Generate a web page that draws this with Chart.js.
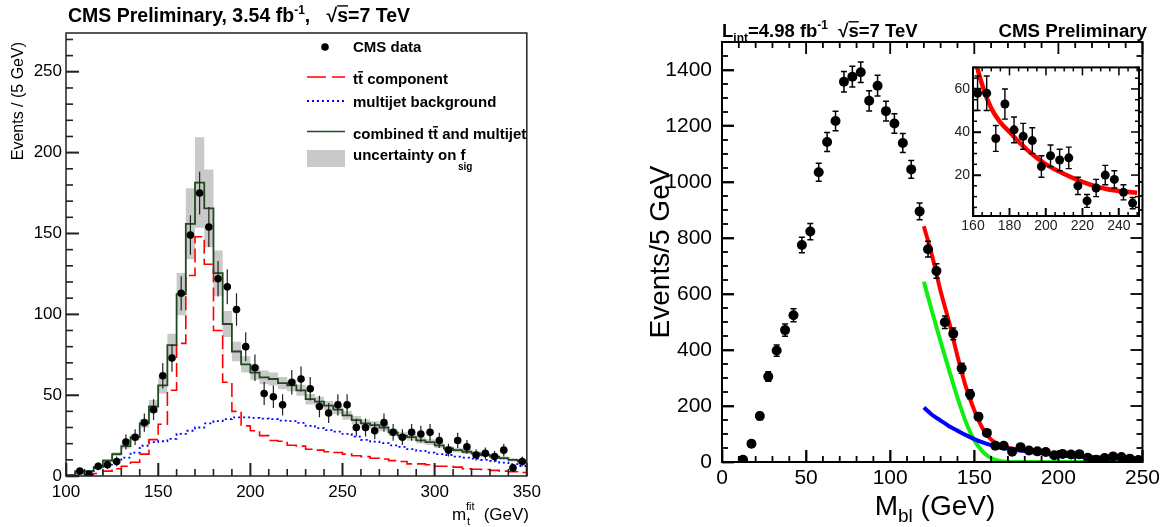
<!DOCTYPE html>
<html>
<head>
<meta charset="utf-8">
<script src="https://cdn.jsdelivr.net/npm/chart.js@4.4.1/dist/chart.umd.min.js"></script>
<style>
  body { margin: 0; background: #fff; }
  #wrap { position: relative; width: 1176px; height: 527px; overflow: hidden; }
  canvas { position: absolute; }
  #left { left: 0; top: 0; }
  #right { left: 560px; top: 0; }
  #inset { left: 930px; top: 48px; }
</style>
</head>
<body>
<div id="wrap">
  <canvas id="left" width="560" height="527"></canvas>
  <canvas id="right" width="616" height="527"></canvas>
  <canvas id="inset" width="215" height="195"></canvas>
</div>
<script>
const FONT = "'Liberation Sans', Arial, Helvetica, sans-serif";

// ---- left panel: fitted top mass, 5 GeV bins from 100 to 350 ----
const mtBinLow = 100;
const mtBinWidth = 5;
const mtFirstCenter = 107.5;
const mtData = [3, 1, 6, 7, 9, 21, 24, 33, 41, 62, 73, 113, 149, 175, 154, 122, 117, 103, 80, 67,
  51, 49, 44, 58, 60, 54, 43, 39, 44, 44, 30, 30, 28, 33, 27, 24, 27, 26, 27, 22,
  16, 22, 18, 13, 14, 12, 16, 5, 9];
const mtDataErr = [1.7, 1, 2.4, 2.6, 3, 4.6, 4.9, 5.7, 6.4, 7.9, 8.5, 10.6, 12.2, 13.2, 12.4, 11, 10.8, 10.1, 8.9, 8.2,
  7.1, 7, 6.6, 7.6, 7.7, 7.3, 6.6, 6.2, 6.6, 6.6, 5.5, 5.5, 5.3, 5.7, 5.2, 4.9, 5.2, 5.1, 5.2, 4.7,
  4, 4.7, 4.2, 3.6, 3.7, 3.5, 4, 2.2, 3];
const mtCombined = [0.5, 3, 3, 5.5, 9.5, 13.5, 18.5, 24, 32.5, 43, 56, 81, 112.5, 156, 181.5, 165.5, 125.5, 94, 77, 69,
  64, 61, 60, 57.5, 56, 53, 47.5, 46, 43.5, 41, 37.5, 34.5, 32.5, 31.5, 30, 27, 25, 24, 22, 21,
  19, 17, 16, 15, 14, 13, 12, 11, 10, 9];
const mtTtbar = [0.3, 0.5, 0.8, 1.5, 3, 4.5, 6, 8.5, 13.5, 22.5, 32, 53, 82, 124, 148, 131, 90, 58, 40, 31,
  28, 25, 22, 21.5, 19, 18.5, 16.5, 16, 15, 14.5, 13.5, 12.5, 12, 11, 10.5, 9.5, 9, 7.5, 7.5, 7,
  6, 6, 5.5, 4.5, 4.2, 4, 3.5, 3, 2.6, 2.2];
const mtMultijet = [0.5, 2, 3, 5, 7, 8.7, 11.4, 14.5, 18.7, 21, 21.5, 23, 26, 28, 30, 32.5, 34, 35.2, 36.3, 36.3,
  36, 35.5, 35.2, 34.2, 34, 32.8, 31, 29.6, 28.4, 27.4, 26, 24.3, 22.4, 21.2, 20.3, 19, 18, 16.6, 15.6, 14.5,
  13.5, 13, 12, 11.4, 10.8, 10, 9.4, 8.3, 7.3, 6.2];
const mtFsigErr = [0.3, 0.5, 0.6, 0.8, 1, 1.2, 1.5, 2, 2.6, 4, 5, 7, 13, 22, 28, 24, 14, 8, 6, 5,
  4.5, 4.2, 4, 3.8, 3.6, 3.4, 3.2, 3, 2.9, 2.8, 2.7, 2.6, 2.5, 2.4, 2.3, 2.2, 2.1, 2, 1.9, 1.8,
  1.7, 1.6, 1.5, 1.4, 1.3, 1.2, 1.2, 1.1, 1, 1];
const mtXTicks = [100, 150, 200, 250, 300, 350];
const mtYTicks = [0, 50, 100, 150, 200, 250];

// ---- right panel: M_bl, 5 GeV bins ----
const mblFirstCenter = 12.5;
const mblBinWidth = 5;
const mblData = [8, 65, 164, 305, 398, 471, 524, 775, 823, 1035, 1143, 1218, 1358, 1376, 1392, 1290, 1344, 1253, 1209, 1139,
  1045, 895, 760, 682, 499, 458, 335, 242, 162, 104, 58, 58, 37, 53, 41, 38, 36, 24, 29, 27,
  28, 15, 8, 14, 20, 18, 12, 7];
const mblErr = [3, 8, 13, 17, 20, 22, 23, 28, 29, 32, 34, 35, 37, 37, 37, 36, 37, 35, 35, 34,
  32, 30, 28, 26, 22, 21, 18, 16, 13, 10, 8, 8, 6, 7, 6, 6, 6, 5, 5, 5,
  5, 4, 3, 4, 4.5, 4, 3.5, 2.6];
const fitX = [120, 125, 130, 135, 140, 145, 150, 155, 160, 165, 170, 175, 180, 185, 190, 195, 200, 210, 220, 230, 240, 250];
const fitTotal = [842, 735, 610, 500, 378, 268, 185, 120, 80, 62, 51, 44.5, 40, 35.5, 31.5, 28, 25, 20.5, 16.8, 14.1, 12.6, 11.8];
const fitSignal = [644, 535, 430, 328, 230, 143, 78, 37, 14, 4, 0.8, 0, 0, 0, 0, 0, 0, 0, 0, 0, 0, 0];
const fitBackground = [195, 168, 148, 128, 112, 96, 82, 70, 60, 52, 47, 43, 39.5, 35, 31.5, 28, 25, 20.5, 16.8, 14.1, 12.6, 11.8];
const mblXTicks = [0, 50, 100, 150, 200, 250];
const mblYTicks = [0, 200, 400, 600, 800, 1000, 1200, 1400];
const insetXTicks = [160, 180, 200, 220, 240];
const insetYTicks = [20, 40, 60];

// histogram as a step line: one point per lower bin edge plus the closing edge
function stepPts(vals) {
  const pts = vals.map((v, i) => ({ x: mtBinLow + i * mtBinWidth, y: v }));
  pts.push({ x: mtBinLow + vals.length * mtBinWidth, y: vals[vals.length - 1] });
  return pts;
}

function fixedTicks(list) {
  return scale => { scale.ticks = list.map(v => ({ value: v })); };
}

function tickValues(min, max, step) {
  const out = [];
  const n0 = Math.ceil(min / step - 1e-6);
  const n1 = Math.floor(max / step + 1e-6);
  for (let n = n0; n <= n1; n++) out.push(n * step);
  return out;
}

// major ticks drawn by Chart.js itself, pointing into the plot (negative length)
function inwardGrid(len, color, width) {
  return { display: true, drawOnChartArea: false, drawTicks: true, tickLength: -len, tickColor: color, tickWidth: width };
}

function richText(ctx, x, y, align, parts) {
  const fontOf = p => (p.bold ? 'bold ' : '') + p.size + 'px ' + FONT;
  const widths = parts.map(p => { ctx.font = fontOf(p); return ctx.measureText(p.t).width; });
  const total = widths.reduce((a, b) => a + b, 0);
  let cx = align === 'right' ? x - total : align === 'center' ? x - total / 2 : x;
  ctx.textAlign = 'left';
  ctx.textBaseline = 'alphabetic';
  parts.forEach((p, i) => {
    ctx.font = fontOf(p);
    ctx.fillText(p.t, cx, y + (p.dy || 0));
    if (p.over) {
      ctx.fillRect(cx, y - p.size * 0.86, widths[i], 1.4);
    }
    cx += widths[i];
  });
}

// ROOT style frame with minor and major ticks pointing inwards
function drawFrame(chart, o) {
  const ctx = chart.ctx;
  const a = chart.chartArea;
  const xs = chart.scales.x;
  const ys = chart.scales.y;
  const w = o.tickWidth;
  ctx.save();
  ctx.globalAlpha = 1;
  ctx.setLineDash([]);
  ctx.fillStyle = o.color;
  ctx.strokeStyle = o.color;
  tickValues(o.xMin, o.xMax, o.xMinor).forEach(v => {
    const len = tickValues(v, v, o.xMajor).length ? o.major : o.minor;
    const px = xs.getPixelForValue(v);
    if (o.bottom) ctx.fillRect(px - w / 2, a.bottom - len, w, len);
    if (o.top) ctx.fillRect(px - w / 2, a.top, w, len);
  });
  tickValues(o.yMin, o.yMax, o.yMinor).forEach(v => {
    const len = tickValues(v, v, o.yMajor).length ? o.major : o.minor;
    const py = ys.getPixelForValue(v);
    if (o.left) ctx.fillRect(a.left, py - w / 2, len, w);
    if (o.right) ctx.fillRect(a.right - len, py - w / 2, len, w);
  });
  ctx.lineWidth = o.width;
  ctx.strokeRect(a.left, a.top, a.right - a.left, a.bottom - a.top);
  ctx.restore();
}

const errorBars = {
  id: 'errorBars',
  beforeDatasetDraw(chart, args) {
    const ds = chart.data.datasets[args.index];
    if (!ds.errors) return;
    const { ctx, scales: { x, y } } = chart;
    ctx.save();
    ctx.strokeStyle = ds.errorColor || '#000';
    ctx.lineWidth = ds.errorWidth || 1;
    ctx.setLineDash([]);
    ctx.beginPath();
    ds.data.forEach((p, i) => {
      if (p.x < x.min || p.x > x.max) return;
      const px = x.getPixelForValue(p.x);
      const y1 = y.getPixelForValue(Math.max(p.y - ds.errors[i], y.min));
      const y2 = y.getPixelForValue(Math.min(p.y + ds.errors[i], y.max));
      ctx.moveTo(px, y1); ctx.lineTo(px, y2);
      if (ds.errorCap) {
        ctx.moveTo(px - ds.errorCap, y1); ctx.lineTo(px + ds.errorCap, y1);
        ctx.moveTo(px - ds.errorCap, y2); ctx.lineTo(px + ds.errorCap, y2);
      }
    });
    ctx.stroke();
    ctx.restore();
  }
};

const leftFrame = { color: '#222', width: 1.5, tickWidth: 1.6, left: true, bottom: true,
  xMin: 100, xMax: 350, xMinor: 10, xMajor: 50, yMin: 0, yMax: 274, yMinor: 10, yMajor: 50, major: 13, minor: 7 };
const rightFrame = { color: '#000', width: 2, tickWidth: 1.8, left: true, bottom: true, right: true, top: true,
  xMin: 0, xMax: 250, xMinor: 10, xMajor: 50, yMin: 0, yMax: 1500, yMinor: 50, yMajor: 200, major: 12, minor: 6 };
const insetFrame = { color: '#000', width: 2, tickWidth: 1.5, left: true, bottom: true, right: true, top: true,
  xMin: 160, xMax: 251, xMinor: 5, xMajor: 20, yMin: 1, yMax: 70, yMinor: 5, yMajor: 20, major: 8, minor: 4 };

const leftTexts = {
  id: 'leftTexts',
  afterDraw(chart) {
    drawFrame(chart, leftFrame);
    const ctx = chart.ctx;
    ctx.save();
    ctx.fillStyle = '#000';
    richText(ctx, 68, 22, 'left', [
      { t: 'CMS Preliminary, 3.54 fb', size: 19.5, bold: true },
      { t: '-1', size: 12, bold: true, dy: -8 },
      { t: ',   \u221A', size: 19.5, bold: true },
      { t: 's', size: 19.5, bold: true, over: true },
      { t: '=7 TeV', size: 19.5, bold: true }
    ]);

    // legend
    ctx.beginPath();
    ctx.arc(325, 47, 3.8, 0, Math.PI * 2);
    ctx.fill();
    richText(ctx, 353, 52, 'left', [{ t: 'CMS data', size: 15, bold: true }]);

    ctx.lineWidth = 1.6;
    ctx.strokeStyle = '#ff0000';
    ctx.setLineDash([19, 6]);
    ctx.beginPath(); ctx.moveTo(307, 77); ctx.lineTo(345, 77); ctx.stroke();
    ctx.strokeStyle = '#0000ff';
    ctx.lineWidth = 1.8;
    ctx.setLineDash([2, 3]);
    ctx.beginPath(); ctx.moveTo(307, 101); ctx.lineTo(345, 101); ctx.stroke();
    ctx.setLineDash([]);
    ctx.strokeStyle = '#1e4a1e';
    ctx.lineWidth = 1.6;
    ctx.beginPath(); ctx.moveTo(307, 131.5); ctx.lineTo(345, 131.5); ctx.stroke();
    ctx.fillStyle = '#c9c9c9';
    ctx.fillRect(307, 150, 38, 17);

    ctx.fillStyle = '#000';
    richText(ctx, 353, 84, 'left', [
      { t: 't', size: 15, bold: true }, { t: 't', size: 15, bold: true, over: true },
      { t: ' component', size: 15, bold: true }
    ]);
    richText(ctx, 353, 107, 'left', [{ t: 'multijet background', size: 15, bold: true }]);
    richText(ctx, 353, 139, 'left', [
      { t: 'combined t', size: 15, bold: true }, { t: 't', size: 15, bold: true, over: true },
      { t: ' and multijet', size: 15, bold: true }
    ]);
    richText(ctx, 353, 160, 'left', [{ t: 'uncertainty on f', size: 15, bold: true }]);
    richText(ctx, 458, 170, 'left', [{ t: 'sig', size: 10, bold: true }]);

    // axis titles
    ctx.font = '17px ' + FONT;
    ctx.textAlign = 'left';
    ctx.fillText('m', 452, 520);
    ctx.font = '11px ' + FONT;
    ctx.fillText('fit', 466, 510);
    ctx.fillText('t', 467, 525);
    ctx.font = '17px ' + FONT;
    ctx.textAlign = 'right';
    ctx.fillText('(GeV)', 529, 520);

    ctx.translate(19, 42);
    ctx.rotate(-Math.PI / 2);
    ctx.font = '16px ' + FONT;
    ctx.textAlign = 'right';
    ctx.textBaseline = 'middle';
    ctx.fillText('Events / (5 GeV)', 0, 0);
    ctx.restore();
  }
};

const rightTexts = {
  id: 'rightTexts',
  afterDraw(chart) {
    drawFrame(chart, rightFrame);
    const ctx = chart.ctx;
    const ox = -560;
    ctx.save();
    ctx.fillStyle = '#000';
    richText(ctx, 722 + ox, 37, 'left', [
      { t: 'L', size: 18.5, bold: true },
      { t: 'int', size: 12, bold: true, dy: 5 },
      { t: '=4.98 fb', size: 18.5, bold: true },
      { t: '-1', size: 12, bold: true, dy: -8 },
      { t: '  \u221A', size: 18.5, bold: true },
      { t: 's', size: 18.5, bold: true, over: true },
      { t: '=7 TeV', size: 18.5, bold: true }
    ]);
    richText(ctx, 1147 + ox, 37, 'right', [{ t: 'CMS Preliminary', size: 18.7, bold: true }]);

    richText(ctx, 935 + ox, 515, 'center', [
      { t: 'M', size: 28 },
      { t: 'bl', size: 19, dy: 7 },
      { t: ' (GeV)', size: 28 }
    ]);

    ctx.translate(661 + ox, 252);
    ctx.rotate(-Math.PI / 2);
    ctx.font = '28px ' + FONT;
    ctx.textAlign = 'center';
    ctx.textBaseline = 'middle';
    ctx.fillText('Events/5 GeV', 0, 0);
    ctx.restore();
  }
};

const insetDecor = {
  id: 'insetDecor',
  beforeDraw(chart) {
    const { ctx, chartArea: a } = chart;
    ctx.save();
    ctx.fillStyle = '#fff';
    ctx.fillRect(a.left, a.top, a.right - a.left, a.bottom - a.top);
    ctx.restore();
  },
  afterDraw(chart) {
    drawFrame(chart, insetFrame);
  }
};

const baseOptions = {
  responsive: false,
  animation: false,
  events: [],
  plugins: { legend: { display: false }, tooltip: { enabled: false } }
};
const plainLabel = v => String(v);

// left chart
new Chart(document.getElementById('left'), {
  type: 'line',
  data: {
    datasets: [
      {
        label: 'CMS data',
        data: mtData.map((v, i) => ({ x: mtFirstCenter + i * mtBinWidth, y: v })),
        showLine: false,
        errors: mtDataErr,
        errorColor: '#222',
        errorWidth: 1.2,
        pointRadius: 3.8,
        pointBackgroundColor: '#000',
        pointBorderWidth: 0,
        order: 1
      },
      {
        label: 'combined',
        data: stepPts(mtCombined),
        stepped: true,
        borderColor: '#1e4a1e',
        borderWidth: 1.8,
        pointRadius: 0,
        order: 2
      },
      {
        label: 'ttbar component',
        data: stepPts(mtTtbar),
        stepped: true,
        borderColor: '#ff0000',
        borderWidth: 1.6,
        borderDash: [14, 5],
        pointRadius: 0,
        order: 3
      },
      {
        label: 'multijet background',
        data: stepPts(mtMultijet),
        stepped: true,
        borderColor: '#0000ff',
        borderWidth: 1.8,
        borderDash: [2, 3],
        pointRadius: 0,
        order: 3
      },
      {
        label: 'band up',
        data: stepPts(mtCombined.map((v, i) => v + mtFsigErr[i])),
        stepped: true,
        borderColor: 'rgba(0,0,0,0)',
        pointRadius: 0,
        fill: false,
        order: 5
      },
      {
        label: 'band down',
        data: stepPts(mtCombined.map((v, i) => v - mtFsigErr[i])),
        stepped: true,
        borderColor: 'rgba(0,0,0,0)',
        backgroundColor: '#c9c9c9',
        pointRadius: 0,
        fill: '-1',
        order: 4
      }
    ]
  },
  options: {
    ...baseOptions,
    layout: { padding: { left: 0, right: 29, top: 33, bottom: 0 } },
    scales: {
      x: {
        type: 'linear', min: 100, max: 350,
        afterBuildTicks: fixedTicks(mtXTicks),
        afterFit: s => { s.height = 51; },
        grid: inwardGrid(13, '#222', 1.6), border: { display: false },
        ticks: { font: { family: FONT, size: 17 }, color: '#000', padding: 19, maxRotation: 0, autoSkip: false, callback: plainLabel }
      },
      y: {
        type: 'linear', min: 0, max: 274,
        afterBuildTicks: fixedTicks(mtYTicks),
        afterFit: s => { s.width = 66; },
        grid: inwardGrid(13, '#222', 1.6), border: { display: false },
        ticks: { font: { family: FONT, size: 17 }, color: '#000', padding: 17, callback: plainLabel }
      }
    }
  },
  plugins: [errorBars, leftTexts]
});

// right chart
const mblPoints = mblData.map((v, i) => ({ x: mblFirstCenter + i * mblBinWidth, y: v }));
const curve = vals => fitX.map((x, i) => ({ x, y: vals[i] }));

new Chart(document.getElementById('right'), {
  type: 'line',
  data: {
    datasets: [
      {
        label: 'data', data: mblPoints, showLine: false,
        errors: mblErr, errorCap: 3, errorWidth: 1.5,
        pointRadius: 5, pointBackgroundColor: '#000', pointBorderWidth: 0, order: 1
      },
      { label: 'background', data: curve(fitBackground), borderColor: '#0000ff', borderWidth: 4, pointRadius: 0, cubicInterpolationMode: 'monotone', order: 2 },
      { label: 'total', data: curve(fitTotal), borderColor: '#ff0000', borderWidth: 4, pointRadius: 0, cubicInterpolationMode: 'monotone', order: 3 },
      { label: 'signal', data: curve(fitSignal), borderColor: '#11ee11', borderWidth: 4, pointRadius: 0, cubicInterpolationMode: 'monotone', order: 4 }
    ]
  },
  options: {
    ...baseOptions,
    layout: { padding: { left: 0, right: 28, top: 42, bottom: 0 } },
    scales: {
      x: {
        type: 'linear', min: 0, max: 250,
        afterBuildTicks: fixedTicks(mblXTicks),
        afterFit: s => { s.height = 65; },
        grid: inwardGrid(12, '#000', 1.8), border: { display: false },
        ticks: { font: { family: FONT, size: 21 }, color: '#000', padding: 16, maxRotation: 0, autoSkip: false, callback: plainLabel }
      },
      y: {
        type: 'linear', min: 0, max: 1500,
        afterBuildTicks: fixedTicks(mblYTicks),
        afterFit: s => { s.width = 162; },
        grid: inwardGrid(12, '#000', 1.8), border: { display: false },
        ticks: { font: { family: FONT, size: 21 }, color: '#000', padding: 22, callback: plainLabel }
      }
    }
  },
  plugins: [errorBars, rightTexts]
});

// inset: zoom on the tail above 160 GeV
const insetPoints = mblPoints.filter(p => p.x > 160);
const insetErr = mblErr.filter((e, i) => mblPoints[i].x > 160);

new Chart(document.getElementById('inset'), {
  type: 'line',
  data: {
    datasets: [
      {
        label: 'data', data: insetPoints, showLine: false,
        errors: insetErr, errorCap: 3, errorWidth: 1.4,
        pointRadius: 4.5, pointBackgroundColor: '#000', pointBorderWidth: 0, order: 1
      },
      { label: 'total', data: curve(fitTotal), borderColor: '#ff0000', borderWidth: 4.5, pointRadius: 0, cubicInterpolationMode: 'monotone', order: 2 }
    ]
  },
  options: {
    ...baseOptions,
    layout: { padding: { left: 0, right: 6, top: 9, bottom: 0 } },
    scales: {
      x: {
        type: 'linear', min: 160, max: 251,
        afterBuildTicks: fixedTicks(insetXTicks),
        afterFit: s => { s.height = 27; },
        grid: inwardGrid(8, '#000', 1.5), border: { display: false },
        ticks: { font: { family: FONT, size: 14 }, color: '#222', padding: 10, maxRotation: 0, autoSkip: false, callback: plainLabel }
      },
      y: {
        type: 'linear', min: 1, max: 70,
        afterBuildTicks: fixedTicks(insetYTicks),
        afterFit: s => { s.width = 43; },
        grid: inwardGrid(8, '#000', 1.5), border: { display: false },
        ticks: { font: { family: FONT, size: 14 }, color: '#222', padding: 11, callback: plainLabel }
      }
    }
  },
  plugins: [errorBars, insetDecor]
});
</script>
</body>
</html>
